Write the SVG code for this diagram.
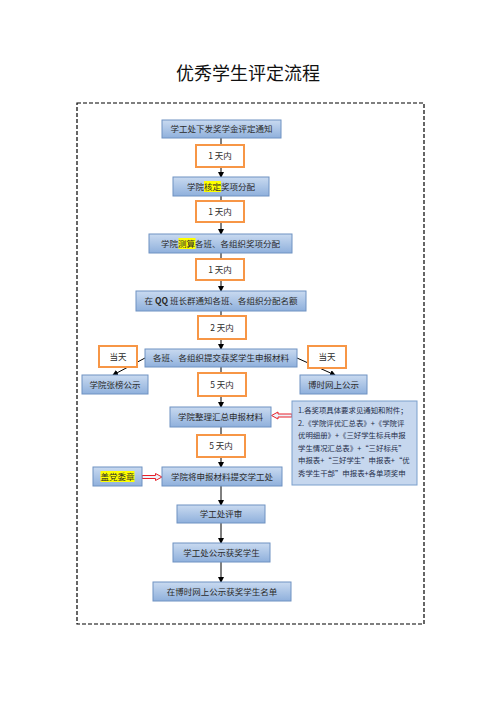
<svg xmlns="http://www.w3.org/2000/svg" width="496" height="702" viewBox="0 0 496 702">
<defs>
<linearGradient id="g" x1="0" y1="0" x2="0" y2="1">
<stop offset="0" stop-color="#c9daf0"/>
<stop offset="1" stop-color="#8fb0dc"/>
</linearGradient>
<marker id="ah" markerWidth="6" markerHeight="6" refX="5" refY="3" orient="auto" markerUnits="userSpaceOnUse">
<path d="M0,0 L6,3 L0,6 z" fill="#000"/>
</marker>
<style>
.b{fill:url(#g);stroke:#6f92c2;stroke-width:1}
.o{fill:#fff;stroke:#f79646;stroke-width:2}
.t{font-family:"Noto Sans CJK SC","Noto Sans",sans-serif;font-size:8.5px;fill:#2b2b2b;text-anchor:middle}
.n{font-family:"Noto Sans CJK SC","Noto Sans",sans-serif;font-size:7.4px;fill:#1f2d4a}
.hl{fill:#ffff00}
.c{stroke:#000;stroke-width:1;fill:none;marker-end:url(#ah)}
.r{fill:#eef3fa;stroke:#e8202a;stroke-width:1}
</style>
</defs>
<rect width="496" height="702" fill="#fff"/>
<text x="248" y="80" font-family="'Noto Sans CJK SC',sans-serif" font-size="18" text-anchor="middle" fill="#111">优秀学生评定流程</text>
<rect x="77" y="103" width="347" height="521" fill="none" stroke="#000" stroke-width="1.2" stroke-dasharray="4,2"/>
<g id="connectors">
<line class="c" x1="221" y1="138" x2="221" y2="177"/>
<line class="c" x1="221" y1="196" x2="221" y2="234"/>
<line class="c" x1="221" y1="253" x2="221" y2="291"/>
<line class="c" x1="221" y1="311" x2="221" y2="349"/>
<line class="c" x1="221" y1="367" x2="221" y2="407"/>
<line class="c" x1="221" y1="427" x2="221" y2="467"/>
<line class="c" x1="221" y1="486" x2="221" y2="505"/>
<line class="c" x1="221" y1="523" x2="221" y2="543"/>
<line class="c" x1="221" y1="562" x2="221" y2="582"/>
<line class="c" x1="145" y1="358" x2="113" y2="375"/>
<line class="c" x1="297" y1="358" x2="335" y2="375"/>
<polygon class="r" points="271.5,415.5 278,412 278,414 292,414 292,417 278,417 278,419"/>
<polygon class="r" points="162,477 155.5,473.5 155.5,475.5 142,475.5 142,478.5 155.5,478.5 155.5,480.5"/>
</g>
<g id="n1"><rect class="b" x="162" y="120" width="119" height="18"/><text class="t" x="221.5" y="132">学工处下发奖学金评定通知</text></g>
<g id="o1"><rect class="o" x="196" y="145" width="48" height="22"/><text class="t" x="220" y="159">1 天内</text></g>
<g id="n2"><rect class="b" x="173" y="177" width="96" height="19"/><rect class="hl" x="204" y="181" width="17" height="11"/><text class="t" x="221" y="189.5">学院核定奖项分配</text></g>
<g id="o2"><rect class="o" x="196" y="201" width="48" height="21"/><text class="t" x="220" y="214.5">1 天内</text></g>
<g id="n3"><rect class="b" x="149" y="234" width="143" height="19"/><rect class="hl" x="178.5" y="238" width="17" height="11"/><text class="t" x="220.5" y="246.5">学院测算各班、各组织奖项分配</text></g>
<g id="o3"><rect class="o" x="196" y="259" width="48" height="21"/><text class="t" x="220" y="272.5">1 天内</text></g>
<g id="n4"><rect class="b" x="136" y="291" width="170" height="20"/><text class="t" x="221" y="304">在 <tspan font-weight="bold">QQ</tspan> 班长群通知各班、各组织分配名额</text></g>
<g id="o4"><rect class="o" x="198" y="316" width="48" height="23"/><text class="t" x="222" y="330.5">2 天内</text></g>
<g id="n5"><rect class="b" x="145" y="349" width="152" height="18"/><text class="t" x="221" y="361">各班、各组织提交获奖学生申报材料</text></g>
<g id="o7"><rect class="o" x="99" y="346" width="38" height="21"/><text class="t" x="118" y="359.5">当天</text></g>
<g id="o8"><rect class="o" x="308" y="346" width="38" height="22"/><text class="t" x="327" y="360">当天</text></g>
<g id="n6"><rect class="b" x="82" y="375" width="66" height="19"/><text class="t" x="115" y="387.5">学院张榜公示</text></g>
<g id="n7"><rect class="b" x="300" y="375" width="67" height="19"/><text class="t" x="333.5" y="387.5">博时网上公示</text></g>
<g id="o5"><rect class="o" x="198" y="373" width="48" height="23"/><text class="t" x="222" y="387.5">5 天内</text></g>
<g id="n8"><rect class="b" x="170" y="407" width="101" height="20"/><text class="t" x="220.5" y="420">学院整理汇总申报材料</text></g>
<g id="note"><rect x="292" y="401" width="125" height="84" fill="#c6d7ee" stroke="#7b9fcc" stroke-width="1"/>
<text class="n" x="298" y="413">1.各奖项具体要求见通知和附件；</text>
<text class="n" x="298" y="425.5">2.《学院评优汇总表》+《学院评</text>
<text class="n" x="298" y="438">优明细册》+《三好学生标兵申报</text>
<text class="n" x="298" y="450.5">学生情况汇总表》+“三好标兵”</text>
<text class="n" x="298" y="463">申报表+“三好学生”申报表+“优</text>
<text class="n" x="298" y="475.5">秀学生干部”申报表+各单项奖申</text>
</g>
<g id="o6"><rect class="o" x="197" y="435" width="48" height="22"/><text class="t" x="221" y="449">5 天内</text></g>
<g id="n9"><rect class="b" x="162" y="467" width="120" height="19"/><text class="t" x="222" y="479.5">学院将申报材料提交学工处</text></g>
<g id="n10"><rect class="b" x="93" y="467" width="49" height="19"/><rect class="hl" x="100.5" y="471" width="34" height="11"/><text class="t" x="117.5" y="479.5">盖党委章</text></g>
<g id="n11"><rect class="b" x="177" y="505" width="88" height="18"/><text class="t" x="221" y="517">学工处评审</text></g>
<g id="n12"><rect class="b" x="173" y="543" width="97" height="19"/><text class="t" x="221.5" y="555.5">学工处公示获奖学生</text></g>
<g id="n13"><rect class="b" x="153" y="582" width="138" height="19"/><text class="t" x="222" y="594.5">在博时网上公示获奖学生名单</text></g>
</svg>
